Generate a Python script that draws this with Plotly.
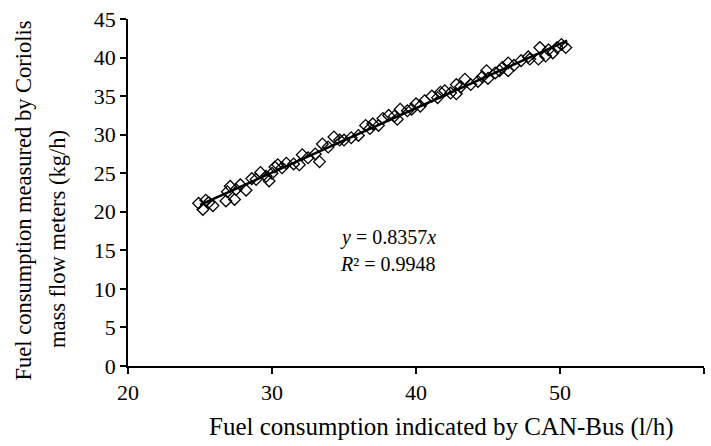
import plotly.graph_objects as go

can_bus = [24.9, 25.2, 25.4, 25.6, 25.9, 26.8, 26.9, 27.1, 27.4, 27.5, 27.8, 28.2, 28.6, 28.9,
           29.2, 29.6, 29.8, 30.0, 30.2, 30.4, 30.7, 31.0, 31.5, 31.9, 32.1, 32.5, 33.0, 33.3,
           33.5, 33.9, 34.3, 34.7, 35.0, 35.5, 36.0, 36.5, 36.8, 37.0, 37.4, 37.7, 38.1, 38.5,
           38.7, 38.9, 39.4, 39.7, 40.0, 40.3, 40.6, 41.1, 41.5, 41.7, 42.0, 42.4, 42.8, 42.8,
           43.1, 43.4, 43.8, 44.3, 44.6, 44.9, 45.0, 45.5, 45.8, 46.0, 46.4, 46.4, 46.8, 47.3,
           47.8, 47.9, 48.5, 48.6, 49.0, 49.2, 49.5, 49.8, 50.1, 50.4]
coriolis = [21.1, 20.3, 21.5, 21.2, 20.8, 21.4, 22.6, 23.3, 21.6, 22.9, 23.5, 22.8, 24.3, 24.2,
            25.1, 24.6, 24.0, 25.0, 25.8, 26.1, 25.7, 26.3, 26.2, 26.1, 27.4, 27.0, 27.5, 26.5,
            28.8, 28.4, 29.7, 29.3, 29.3, 29.6, 29.9, 31.2, 30.8, 31.4, 31.2, 32.1, 32.5, 32.4,
            32.0, 33.3, 33.1, 33.3, 34.0, 33.7, 34.4, 35.0, 34.8, 35.5, 35.7, 35.4, 35.3, 36.5,
            36.2, 37.2, 36.5, 36.9, 37.5, 38.3, 37.3, 38.0, 38.3, 38.7, 39.3, 38.3, 39.0, 39.6,
            40.1, 39.8, 39.8, 41.3, 40.2, 41.0, 40.6, 41.3, 41.7, 41.3]

slope = 0.8357
fit_x = [25.0, 50.5]
fit_y = [slope * v for v in fit_x]

x_ticks = [20, 30, 40, 50, 60]
y_ticks = [0, 5, 10, 15, 20, 25, 30, 35, 40, 45]

FONT = "Liberation Serif, Times New Roman, serif"

# plot area in pixels
L, R, T, B = 128, 704, 16, 366
PW, PH = R - L, B - T

def px(xp):
    return (xp - L) / PW

def py(yp):
    return (B - yp) / PH

fig = go.Figure()
fig.add_trace(go.Scatter(x=can_bus, y=coriolis, mode="markers",
                         marker=dict(symbol="diamond-open", size=9, color="black",
                                     line=dict(width=1.3, color="black")),
                         showlegend=False))
fig.add_trace(go.Scatter(x=fit_x, y=fit_y, mode="lines",
                         line=dict(color="black", width=2.5), showlegend=False))

axis_common = dict(showline=True, linecolor="black", linewidth=1.5, ticks="outside",
                   ticklen=6, tickwidth=1.5, tickcolor="black", showgrid=False,
                   zeroline=False, tickfont=dict(family=FONT, size=22, color="black"))

fig.update_xaxes(range=[20, 60], tickvals=x_ticks, **axis_common)
fig.update_yaxes(range=[0, 45], tickvals=y_ticks, **axis_common)

def note(text, x, y, size, angle=0, xanchor="center"):
    return dict(text=text, xref="paper", yref="paper", x=x, y=y, xanchor=xanchor,
                yanchor="middle", textangle=angle, showarrow=False,
                font=dict(family=FONT, size=size, color="black"))

fig.update_layout(
    width=711, height=446,
    margin=dict(l=L, r=711 - R, t=T, b=446 - B),
    plot_bgcolor="white", paper_bgcolor="white",
    font=dict(family=FONT, color="black"),
    annotations=[
        note("Fuel consumption indicated by CAN-Bus (l/h)", px(441), py(428), 25),
        note("Fuel consumption measured by Coriolis", px(23), py(199), 22.5, angle=-90),
        note("mass flow meters (kg/h)", px(57), py(238), 22.5, angle=-90),
        note("<i>y</i> = 0.8357<i>x</i>", px(338), py(236), 20, xanchor="left"),
        note("<i>R</i>² = 0.9948", px(338), py(263), 20, xanchor="left"),
    ],
)

fig.write_html("out.html")
